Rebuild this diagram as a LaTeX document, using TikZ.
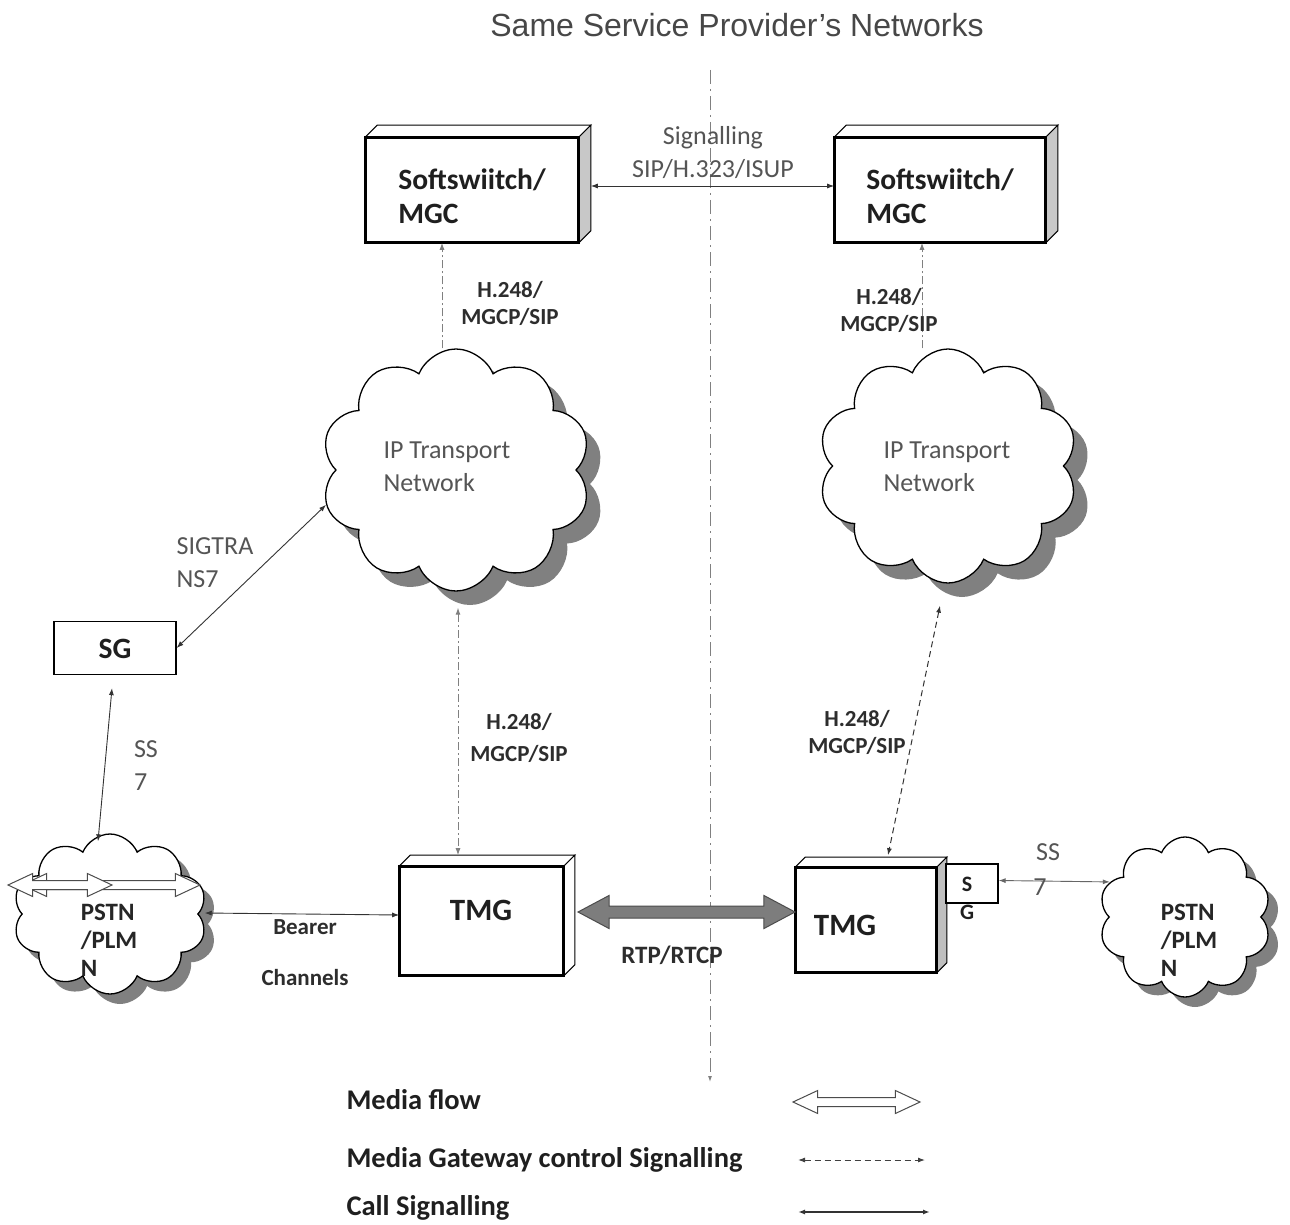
\documentclass[tikz,border=0pt]{standalone}
\usepackage{fontspec}
\setmainfont{Carlito}
\newfontfamily\titlefont{Liberation Sans}
\usetikzlibrary{shapes.symbols,shapes.arrows,shadows,arrows.meta,calc}
\definecolor{lblgray}{RGB}{85,85,85}
\definecolor{dkgray}{RGB}{45,45,45}
\definecolor{sidegray}{RGB}{200,200,200}
\definecolor{rtpgray}{RGB}{125,125,125}
\newcommand\mkthreed[3]{%
  \draw[line width=1pt, fill=white] (#1.north west) -- ++(#2,-#2) -- ($(#1.north east)+(#2,-#2)$) -- (#1.north east) -- cycle;
  \draw[line width=1pt, fill=#3] (#1.north east) -- ++(#2,-#2) -- ($(#1.south east)+(#2,-#2)$) -- (#1.south east) -- cycle;
  \draw[line width=1.6pt] (#1.north west) rectangle (#1.south east);
}
\tikzset{
  front/.style={draw=black, line width=1.6pt, fill=white, inner sep=0pt},
  boxtext/.style={font=\fontsize{29.5}{34}\selectfont\bfseries, text=black!88, align=left},
  lbl/.style={font=\fontsize{26}{33}\selectfont, text=lblgray, align=center},
  blbl/.style={font=\fontsize{23}{27}\selectfont\bfseries, text=dkgray, align=center},
  pstntxt/.style={font=\fontsize{25}{28}\selectfont\bfseries, text=black!85, align=left},
  legtxt/.style={font=\fontsize{28.5}{34}\selectfont\bfseries, text=black!88},
  cloudnode/.style={cloud, cloud puffs=10, cloud puff arc=135, draw=black, line width=1.3pt, fill=white,
    drop shadow={shadow xshift=#1, shadow yshift=-#1, fill=gray, opacity=1}},
  mytipA/.tip={Latex[length=7pt,width=5pt]},
  callsig/.style={draw=black!80, line width=0.9pt, mytipA-mytipA},
  mgcsig/.style={draw=black!75, line width=1pt, dash pattern=on 6pt off 4pt, mytipA-mytipA},
  mgcline/.style={draw=gray, line width=1pt, dash pattern=on 8pt off 3pt on 2pt off 3pt},
  hollow/.style={double arrow, draw=black!70, fill=white, line width=1pt, text height=0pt, text depth=0pt,
    inner xsep=0pt, inner ysep=4pt, double arrow head extend=7pt, double arrow tip angle=50, double arrow head indent=0pt},
  rtparrow/.style={double arrow, draw=black!70, fill=rtpgray, line width=1pt, text height=0pt, text depth=0pt,
    inner xsep=0pt, inner ysep=5.5pt, double arrow head extend=10.5pt, double arrow tip angle=56, double arrow head indent=0pt}
}
\begin{document}
\begin{tikzpicture}[x=1pt,y=-1pt]
\useasboundingbox[fill=white] (0,0) rectangle (1290,1225);

% title
\node[font=\titlefont\fontsize{32}{38}\selectfont, text=black!72] (title) at (737,25) {Same Service Provider’s Networks};

% divider
\coordinate (vtop) at (710,70);
\coordinate (vbot) at (710,1082);
\draw[gray, line width=1pt, dash pattern=on 14pt off 5pt on 2pt off 5pt, -{Latex[length=6pt,width=4pt]}] (vtop) -- (vbot);

% softswitches
\node[front, minimum width=212pt, minimum height=104pt] (ssl) at (472,190) {};
\mkthreed{ssl}{12}{sidegray}
\node[boxtext] (sslt) at (472,196) {Softswiitch/\\MGC};
\node[front, minimum width=210pt, minimum height=104pt] (ssr) at (940,190) {};
\mkthreed{ssr}{12}{sidegray}
\node[boxtext] (ssrt) at (940,196) {Softswiitch/\\MGC};

\draw[callsig] ($(ssl.east)+(12,-4)$) -- ($(ssr.west)+(0,-4)$);
\node[lbl] (siglbl) at (713,153) {Signalling\\SIP/H.323/ISUP};

% IP clouds
\node[cloudnode=14pt, minimum width=270pt, minimum height=242pt] (ipl) at (456,470) {};
\node[lbl, align=left] (iplt) at (447,467) {IP Transport\\Network};
\node[cloudnode=14pt, minimum width=260pt, minimum height=234pt] (ipr) at (948,466) {};
\node[lbl, align=left] (iprt) at (947,467) {IP Transport\\Network};

% upper H.248 links
\coordinate (hl1) at (442,0);
\coordinate (hr1) at (922,0);
\draw[mgcline, -mytipA] (ipl.north -| hl1) -- (ssl.south -| hl1);
\draw[mgcline, -mytipA] (ipr.north -| hr1) -- (ssr.south -| hr1);
\node[blbl] (hlab1) at (510,303) {H.248/\\MGCP/SIP};
\node[blbl] (hlab2) at (889,310) {H.248/\\MGCP/SIP};

% SG and SS7 left
\node[front, line width=1.2pt, minimum width=122pt, minimum height=53pt] (sg) at (115,648) {};
\node[boxtext] (sgt) at (115,649) {SG};
\draw[callsig] (ipl.195) -- (sg.east);
\node[lbl, align=left] (sigt) at (215,563) {SIGTRA\\NS7};

% PSTN left
\node[cloudnode=10pt, minimum width=194pt, minimum height=160pt] (pstnl) at (110,914) {};
\node[pstntxt] (pstnlt) at (109,940) {PSTN\\/PLM\\N};
\node[hollow, minimum height=178pt] (mf2) at (111,885) {};
\node[hollow, minimum height=104pt] (mf1) at (60,885) {};
\draw[callsig] ($(sg.south)+(-3,13)$) -- ($(pstnl.north)+(-12,8)$);
\node[lbl, align=left] (ss7l) at (146,766) {SS\\7};

% TMG left
\node[front, minimum width=163pt, minimum height=108pt] (tmgl) at (481.5,921) {};
\mkthreed{tmgl}{11}{white}
\node[boxtext, font=\fontsize{31}{36}\selectfont\bfseries] (tmglt) at (481,910) {TMG};
\draw[callsig] ($(pstnl.east)+(6,-1)$) -- ($(tmgl.west)+(0,-6)$);
\node[blbl] (bear1) at (305,927) {Bearer};
\node[blbl] (bear2) at (305,978) {Channels};

\coordinate (hl2) at (458,0);
\draw[mgcline, mytipA-mytipA] ($(ipl.south -| hl2)+(0,16)$) -- ($(tmgl.north -| hl2)+(0,-11)$);
\node[blbl] (hlab3) at (519,738) {H.248/\\[5pt]MGCP/SIP};

% TMG right
\node[front, minimum width=140pt, minimum height=104pt] (tmgr) at (866,920) {};
\mkthreed{tmgr}{10}{black!25}
\node[boxtext, font=\fontsize{31}{36}\selectfont\bfseries] (tmgrt) at (845,925) {TMG};
\node[front, line width=1.2pt, minimum width=52pt, minimum height=39pt] (sgs) at (972,883.5) {};
\node[boxtext, font=\fontsize{22}{26}\selectfont\bfseries] (sgst) at (967,884) {S};
\node[boxtext, font=\fontsize{22}{26}\selectfont\bfseries] (sgsg) at (967,912) {G};

% RTP
\node[rtparrow, minimum height=217pt] (rtp) at (686.5,912) {};
\node[blbl, font=\fontsize{25}{30}\selectfont\bfseries] (rtpl) at (672,955) {RTP/RTCP};

% right lower H.248
\draw[mgcsig, draw=black!80] ($(ipr.south)+(-8,22)$) -- ($(tmgr.north)+(22,-12)$);
\node[blbl] (hlab4) at (857,732) {H.248/\\MGCP/SIP};

% PSTN right
\node[cloudnode=10pt, minimum width=172pt, minimum height=160pt] (pstnr) at (1185,917) {};
\node[pstntxt] (pstnrt) at (1189,940) {PSTN\\/PLM\\N};
\draw[callsig, draw=black!60] ($(sgs.east)+(0,-3)$) -- (pstnr.155);
\node[lbl] (ss7r1) at (1048,852) {SS};
\node[lbl] (ss7r2) at (1040,887) {7};

% legend
\node[legtxt, anchor=west] (leg1) at (343,1100) {Media flow};
\node[hollow, minimum height=127pt] (legmf) at (856.5,1102) {};
\node[legtxt, anchor=west] (leg2) at (343,1160) {Media Gateway control Signalling};
\coordinate (lg2a) at (798,1160);
\coordinate (lg2b) at (925,1160);
\draw[mgcsig] (lg2a) -- (lg2b);
\node[legtxt, anchor=west] (leg3) at (343,1208) {Call Signalling};
\coordinate (lg3a) at (798,1212);
\coordinate (lg3b) at (930,1212);
\draw[callsig, line width=1.4pt] (lg3a) -- (lg3b);
\end{tikzpicture}
\end{document}
